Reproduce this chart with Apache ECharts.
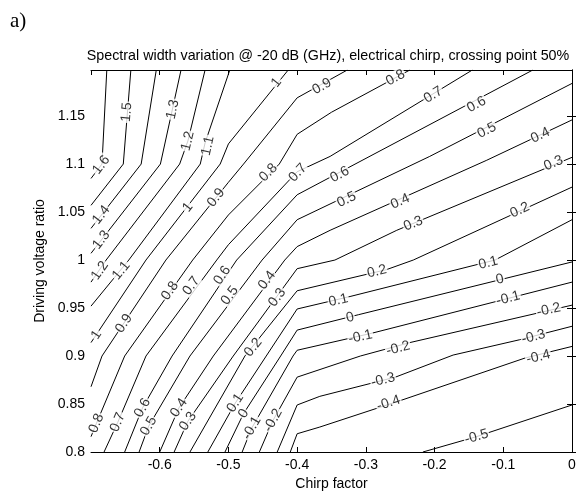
<!DOCTYPE html>
<html>
<head>
<meta charset="utf-8">
<title>Spectral width variation</title>
<script src="https://cdn.jsdelivr.net/npm/echarts@6/dist/echarts.min.js"></script>
<style>
  html, body { margin: 0; padding: 0; background: #fff; }
  #chart { width: 576px; height: 492px; }
</style>
</head>
<body>
<div id="chart"></div>
<script>
// contour levels, and for each one the polyline (chirp factor, driving voltage ratio)
var levels = [1.6, 1.5, 1.4, 1.3, 1.2, 1.1, 1, 0.9, 0.8, 0.7, 0.6, 0.5, 0.4, 0.3, 0.2, 0.1, 0, -0.1, -0.2, -0.3, -0.4, -0.5];

var contourPaths = [
  [[-0.677, 1.198], [-0.684, 1.1], [-0.7, 1.085]],
  [[-0.642, 1.198], [-0.653, 1.1], [-0.7, 1.057]],
  [[-0.605, 1.198], [-0.627, 1.1], [-0.7, 1.033]],
  [[-0.569, 1.198], [-0.599, 1.1], [-0.7, 1.007]],
  [[-0.534, 1.198], [-0.559, 1.124], [-0.571, 1.1], [-0.678, 1.0], [-0.7, 0.977]],
  [[-0.498, 1.198], [-0.534, 1.122], [-0.541, 1.1], [-0.645, 1.0], [-0.7, 0.952]],
  [[-0.413, 1.198], [-0.5, 1.121], [-0.512, 1.1], [-0.62, 1.0], [-0.7, 0.914]],
  [[-0.327, 1.198], [-0.4, 1.169], [-0.478, 1.1], [-0.5, 1.081], [-0.591, 1.0], [-0.684, 0.9], [-0.7, 0.868]],
  [[-0.236, 1.198], [-0.35, 1.154], [-0.4, 1.131], [-0.426, 1.1], [-0.5, 1.047], [-0.552, 1.0], [-0.651, 0.9], [-0.692, 0.83], [-0.7, 0.816]],
  [[-0.145, 1.198], [-0.352, 1.108], [-0.4, 1.092], [-0.5, 1.016], [-0.517, 1.0], [-0.62, 0.9], [-0.661, 0.831], [-0.681, 0.8]],
  [[-0.057, 1.198], [-0.4, 1.068], [-0.488, 1.0], [-0.582, 0.9], [-0.625, 0.846], [-0.651, 0.8]],
  [[0, 1.184], [-0.207, 1.108], [-0.4, 1.042], [-0.451, 1.0], [-0.556, 0.9], [-0.616, 0.827], [-0.63, 0.8]],
  [[0, 1.146], [-0.124, 1.104], [-0.352, 1.031], [-0.4, 1.014], [-0.418, 1.0], [-0.522, 0.9], [-0.572, 0.846], [-0.6, 0.8]],
  [[0, 1.107], [-0.255, 1.031], [-0.345, 1.0], [-0.4, 0.991], [-0.493, 0.9], [-0.559, 0.832], [-0.579, 0.8]],
  [[0, 1.076], [-0.231, 1.0], [-0.27, 0.99], [-0.4, 0.968], [-0.476, 0.9], [-0.556, 0.8]],
  [[0, 1.042], [-0.112, 1.0], [-0.323, 0.962], [-0.4, 0.949], [-0.445, 0.9], [-0.49, 0.851], [-0.53, 0.8]],
  [[0, 0.998], [-0.311, 0.943], [-0.4, 0.927], [-0.424, 0.9], [-0.478, 0.84], [-0.505, 0.8]],
  [[0, 0.977], [-0.29, 0.924], [-0.4, 0.906], [-0.406, 0.9], [-0.466, 0.825], [-0.48, 0.8]],
  [[0, 0.953], [-0.236, 0.914], [-0.308, 0.9], [-0.4, 0.878], [-0.435, 0.833], [-0.455, 0.8]],
  [[0, 0.931], [-0.076, 0.917], [-0.173, 0.901], [-0.257, 0.878], [-0.367, 0.858], [-0.4, 0.849], [-0.429, 0.8]],
  [[0, 0.91], [-0.068, 0.898], [-0.248, 0.854], [-0.367, 0.826], [-0.4, 0.819], [-0.41, 0.8]],
  [[-0.217, 0.8], [-0.139, 0.816], [0, 0.849]]
];

// inline contour labels: [x, y, level]
var labelSpots = [
  [-0.685, 1.099, 1.6],
  [-0.648, 1.154, 1.5],
  [-0.685, 1.047, 1.4],
  [-0.581, 1.157, 1.3], [-0.685, 1.021, 1.3],
  [-0.559, 1.124, 1.2], [-0.687, 0.989, 1.2],
  [-0.53, 1.119, 1.1], [-0.656, 0.989, 1.1],
  [-0.43, 1.185, 1], [-0.559, 1.055, 1], [-0.692, 0.922, 1],
  [-0.364, 1.181, 0.9], [-0.518, 1.065, 0.9], [-0.652, 0.934, 0.9],
  [-0.257, 1.19, 0.8], [-0.442, 1.091, 0.8], [-0.585, 0.968, 0.8], [-0.692, 0.83, 0.8],
  [-0.202, 1.172, 0.7], [-0.399, 1.091, 0.7], [-0.554, 0.973, 0.7], [-0.661, 0.831, 0.7],
  [-0.139, 1.162, 0.6], [-0.338, 1.089, 0.6], [-0.509, 0.984, 0.6], [-0.625, 0.846, 0.6],
  [-0.124, 1.135, 0.5], [-0.328, 1.063, 0.5], [-0.498, 0.963, 0.5], [-0.616, 0.827, 0.5],
  [-0.046, 1.13, 0.4], [-0.25, 1.061, 0.4], [-0.444, 0.979, 0.4], [-0.572, 0.846, 0.4],
  [-0.027, 1.101, 0.3], [-0.231, 1.038, 0.3], [-0.429, 0.961, 0.3], [-0.559, 0.832, 0.3],
  [-0.076, 1.052, 0.2], [-0.284, 0.988, 0.2], [-0.464, 0.909, 0.2],
  [-0.122, 0.997, 0.1], [-0.34, 0.958, 0.1], [-0.49, 0.851, 0.1],
  [-0.105, 0.98, 0], [-0.323, 0.94, 0], [-0.478, 0.84, 0],
  [-0.093, 0.96, -0.1], [-0.308, 0.92, -0.1], [-0.466, 0.825, -0.1],
  [-0.034, 0.948, -0.2], [-0.253, 0.908, -0.2], [-0.435, 0.833, -0.2],
  [-0.056, 0.92, -0.3], [-0.275, 0.875, -0.3],
  [-0.049, 0.899, -0.4], [-0.267, 0.851, -0.4],
  [-0.139, 0.816, -0.5]
];

var xRange = [-0.7, 0];
var yRange = [0.8, 1.198];

var font = 'Liberation Sans, Arial, sans-serif';
var chart = echarts.init(document.getElementById('chart'));

function axisCommon() {
  return {
    type: 'value',
    axisLine: { show: true, lineStyle: { color: '#000', width: 1 } },
    axisTick: { show: true, inside: true, length: 5, lineStyle: { color: '#000' } },
    splitLine: { show: false }
  };
}

var xBottom = Object.assign(axisCommon(), {
  position: 'bottom', min: xRange[0], max: xRange[1], interval: 0.1,
  axisLabel: { color: '#000', fontSize: 14, fontFamily: font, margin: 6, showMinLabel: false },
  name: 'Chirp factor', nameLocation: 'middle', nameGap: 24,
  nameTextStyle: { color: '#000', fontSize: 14, fontFamily: font }
});
var xTop = Object.assign(axisCommon(), {
  position: 'top', min: xRange[0], max: xRange[1], interval: 0.1,
  axisLabel: { show: false }
});
var yLeft = Object.assign(axisCommon(), {
  position: 'left', min: yRange[0], max: yRange[1], interval: 0.05,
  axisLabel: { color: '#000', fontSize: 14, fontFamily: font, margin: 6, showMaxLabel: false },
  name: 'Driving voltage ratio', nameLocation: 'middle', nameGap: 40,
  nameTextStyle: { color: '#000', fontSize: 14, fontFamily: font }
});
var yRight = Object.assign(axisCommon(), {
  position: 'right', min: yRange[0], max: yRange[1], interval: 0.05,
  axisLabel: { show: false }
});

chart.setOption({
  animation: false,
  backgroundColor: '#fff',
  title: {
    text: 'Spectral width variation @ -20 dB (GHz), electrical chirp, crossing point 50%',
    left: 323, top: 44, textAlign: 'center',
    textStyle: { color: '#000', fontSize: 14.3, fontWeight: 'normal', fontFamily: font }
  },
  graphic: [{
    type: 'text', left: 10, top: 11,
    style: { text: 'a)', fill: '#000', font: '21px "Liberation Serif", "Times New Roman", serif' }
  }],
  grid: { left: 91, right: 4, top: 70, bottom: 40, outerBoundsMode: 'none', containLabel: false },
  xAxis: [xBottom, xTop],
  yAxis: [yLeft, yRight],
  series: []
});

// angle of the contour at each label, from the nearest segment in screen space
function labelAngle(spot) {
  var path = contourPaths[levels.indexOf(spot[2])];
  var p = chart.convertToPixel({ gridIndex: 0 }, [spot[0], spot[1]]);
  var best = null, bestD = Infinity;
  for (var i = 0; i < path.length - 1; i++) {
    var a = chart.convertToPixel({ gridIndex: 0 }, path[i]);
    var b = chart.convertToPixel({ gridIndex: 0 }, path[i + 1]);
    var vx = b[0] - a[0], vy = b[1] - a[1];
    var t = ((p[0] - a[0]) * vx + (p[1] - a[1]) * vy) / (vx * vx + vy * vy);
    t = Math.max(0, Math.min(1, t));
    var dx = a[0] + t * vx - p[0], dy = a[1] + t * vy - p[1];
    var d = dx * dx + dy * dy;
    if (d < bestD) { bestD = d; best = [vx, vy]; }
  }
  var ang = Math.atan2(-best[1], best[0]) * 180 / Math.PI;
  if (ang > 90) ang -= 180;
  if (ang < -90) ang += 180;
  return ang;
}

var series = levels.map(function (lv, i) {
  return {
    type: 'line',
    name: String(lv),
    data: contourPaths[i],
    symbol: 'none',
    showSymbol: false,
    silent: true,
    z: 2,
    lineStyle: { color: '#000', width: 1 }
  };
});

series.push({
  type: 'scatter',
  silent: true,
  z: 5,
  symbolSize: 1,
  itemStyle: { color: 'rgba(0,0,0,0)' },
  data: labelSpots.map(function (s) {
    return { value: [s[0], s[1], s[2]], label: { rotate: labelAngle(s) } };
  }),
  label: {
    show: true,
    position: 'inside',
    formatter: function (p) { return String(p.value[2]); },
    color: '#000',
    fontSize: 14,
    fontFamily: font,
    backgroundColor: '#fff',
    padding: [0, 1]
  }
});

chart.setOption({ series: series });
</script>
</body>
</html>
